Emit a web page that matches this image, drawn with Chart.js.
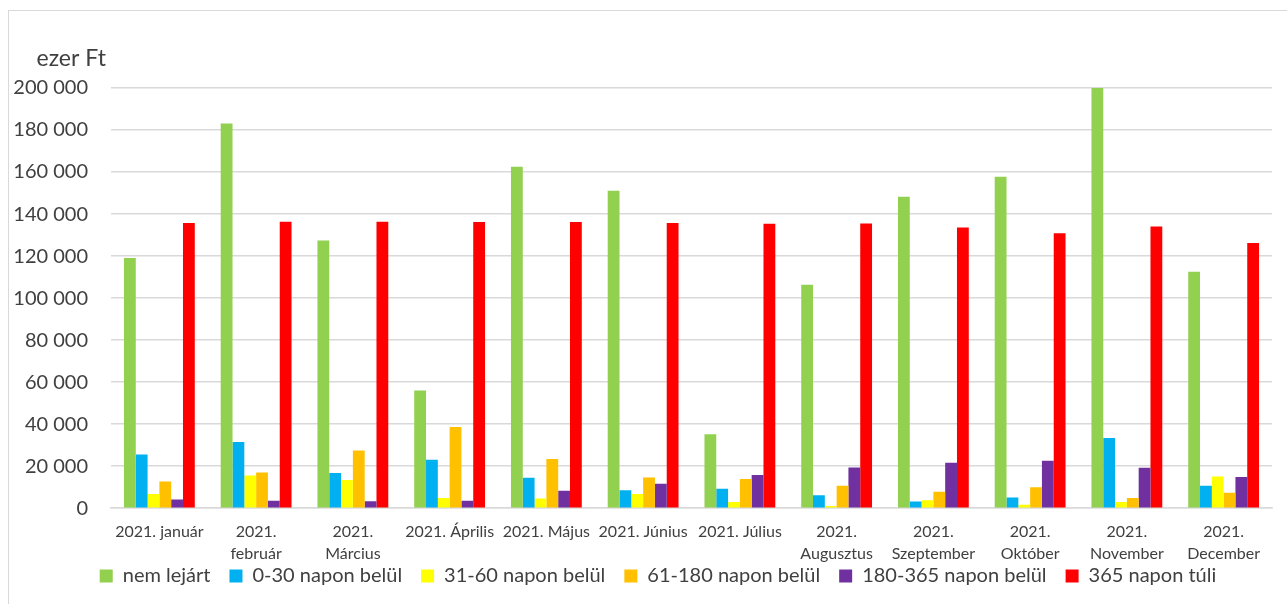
<!doctype html>
<html lang="hu">
<head>
  <meta charset="UTF-8">
  <title>Követések korosítása 2021</title>
  <script src="https://cdn.jsdelivr.net/npm/chart.js@4/dist/chart.umd.min.js"></script>
  <style>
    body { margin: 0; background: #fff; }
  </style>
</head>
<body>
  <canvas id="canvas" width="1287" height="604"></canvas>
  <script>
    // havi címkék (többsoros ahol az eredetiben is tört)
    var months = [
      '2021. január', ['2021.', 'február'], ['2021.', 'Március'], '2021. Április',
      '2021. Május', '2021. Június', '2021. Július', ['2021.', 'Augusztus'],
      ['2021.', 'Szeptember'], ['2021.', 'Október'], ['2021.', 'November'], ['2021.', 'December']
    ];
    var seriesNames = ['nem lejárt', '0-30 napon belül', '31-60 napon belül',
      '61-180 napon belül', '180-365 napon belül', '365 napon túli'];
    var seriesColors = ['#92D050', '#00B0F0', '#FFFF00', '#FFC000', '#7030A0', '#FF0000'];

    // ezer Ft
    var nemLejart   = [119100, 183100, 127400, 56000, 162500, 151100, 35200, 106300, 148200, 157800, 200000, 112500];
    var nap0_30     = [25600, 31500, 16700, 23100, 14500, 8600, 9200, 6200, 3200, 5100, 33400, 10700];
    var nap31_60    = [6800, 15600, 13400, 4900, 4600, 6800, 2900, 1000, 3800, 1600, 3000, 15100];
    var nap61_180   = [12700, 17000, 27500, 38700, 23400, 14600, 13900, 10700, 7800, 10000, 4900, 7300];
    var nap180_365  = [4200, 3500, 3300, 3500, 8300, 11600, 15800, 19400, 21600, 22600, 19300, 14800];
    var nap365Tuli  = [135700, 136300, 136300, 136200, 136200, 135700, 135400, 135500, 133600, 130900, 134100, 126200];

    var yTicks = [0, 20000, 40000, 60000, 80000, 100000, 120000, 140000, 160000, 180000, 200000];

    var allSeries = [nemLejart, nap0_30, nap31_60, nap61_180, nap180_365, nap365Tuli];
    var textColor = '#404040';
    var fontName = 'Lato';

    const fmt = v => String(v).replace(/\B(?=(\d{3})+(?!\d))/g, ' ');

    const frame = {
      id: 'frame',
      beforeDraw(chart) {
        const c = chart.ctx;
        c.save();
        c.fillStyle = '#fff';
        c.fillRect(0, 0, chart.width, chart.height);
        c.strokeStyle = '#d9d9d9';
        c.lineWidth = 1;
        c.strokeRect(8.5, 10.5, chart.width + 20, chart.height + 20);
        c.restore();
      },
      afterLayout(chart) {
        // legend sits tight under the axis labels, a bit right of centre
        const lg = chart.legend;
        lg.top -= 30; lg.bottom -= 30;
        lg.left += 22; lg.right += 22;
      },
      afterDraw(chart) {
        const c = chart.ctx, a = chart.chartArea;
        c.save();
        c.fillStyle = textColor;
        c.font = '23px ' + fontName;
        c.textAlign = 'right';
        c.textBaseline = 'alphabetic';
        c.fillText('ezer Ft', a.left - 5, a.top - 22);
        c.restore();
      }
    };

    new Chart(document.getElementById('canvas'), {
      type: 'bar',
      data: {
        labels: months,
        datasets: allSeries.map((d, i) => ({
          label: seriesNames[i],
          data: d,
          backgroundColor: seriesColors[i],
          borderWidth: 0
        }))
      },
      options: {
        responsive: false,
        animation: false,
        layout: { padding: { left: 0, right: 15, top: 88, bottom: -22 } },
        datasets: { bar: { barPercentage: 1, categoryPercentage: 0.732 } },
        scales: {
          x: {
            grid: { display: false, drawTicks: false },
            border: { display: true, color: '#d9d9d9', width: 1.5 },
            ticks: {
              color: textColor,
              font: { family: fontName, size: 16, lineHeight: 1.4 },
              padding: 12,
              maxRotation: 0,
              autoSkip: false
            }
          },
          y: {
            min: 0,
            max: 200000,
            afterFit: s => { s.width = 111; },
            afterBuildTicks: s => { s.ticks = yTicks.map(v => ({ value: v })); },
            grid: { color: '#d9d9d9', lineWidth: 1.5, drawTicks: false },
            border: { display: false },
            ticks: {
              color: textColor,
              font: { family: fontName, size: 20 },
              padding: 23,
              callback: v => fmt(v)
            }
          }
        },
        plugins: {
          legend: {
            position: 'bottom',
            labels: {
              color: textColor,
              font: { family: fontName, size: 20 },
              boxWidth: 13,
              boxHeight: 13,
              padding: 19
            }
          },
          tooltip: { enabled: false }
        }
      },
      plugins: [frame]
    });
  </script>
</body>
</html>
